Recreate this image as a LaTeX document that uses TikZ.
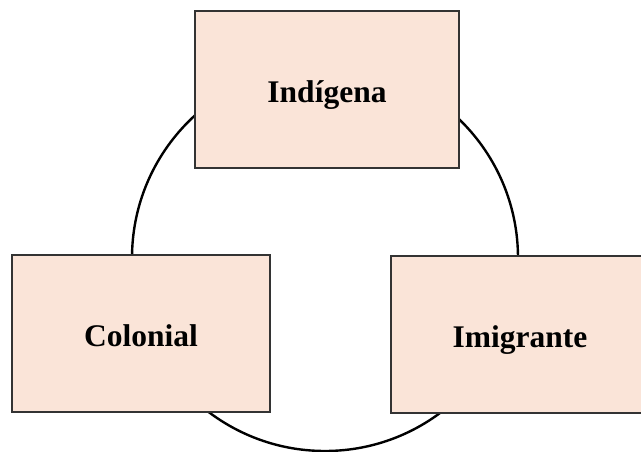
\documentclass[tikz,border=0pt]{standalone}
\usepackage{fontspec}
\setmainfont{Liberation Serif}
\definecolor{boxfill}{HTML}{FAE4D8}
\definecolor{boxline}{HTML}{333333}
\begin{document}
\begin{tikzpicture}[x=1pt,y=-1pt,
  catbox/.style={draw=boxline, line width=1.4pt, fill=boxfill, inner sep=0pt,
    minimum height=157pt, text height=30pt, text depth=4pt,
    font=\fontsize{31.5}{36}\selectfont\bfseries},
  ring/.style={draw=black, line width=2.4pt}]
  \useasboundingbox (0,0) rectangle (641,452);
  \clip (0,0) rectangle (641,452);
  % cycle linking the three categories
  \coordinate (hub) at (325,258);
  \draw[ring] (hub) circle[radius=193];
  % category boxes
  \node[catbox, minimum width=264pt] (ind) at (327,89.5) {Indígena};
  \node[catbox, minimum width=258pt] (col) at (141,333.5) {Colonial};
  \node[catbox, minimum width=258pt] (imi) at (520,334.5) {Imigrante};
\end{tikzpicture}
\end{document}
